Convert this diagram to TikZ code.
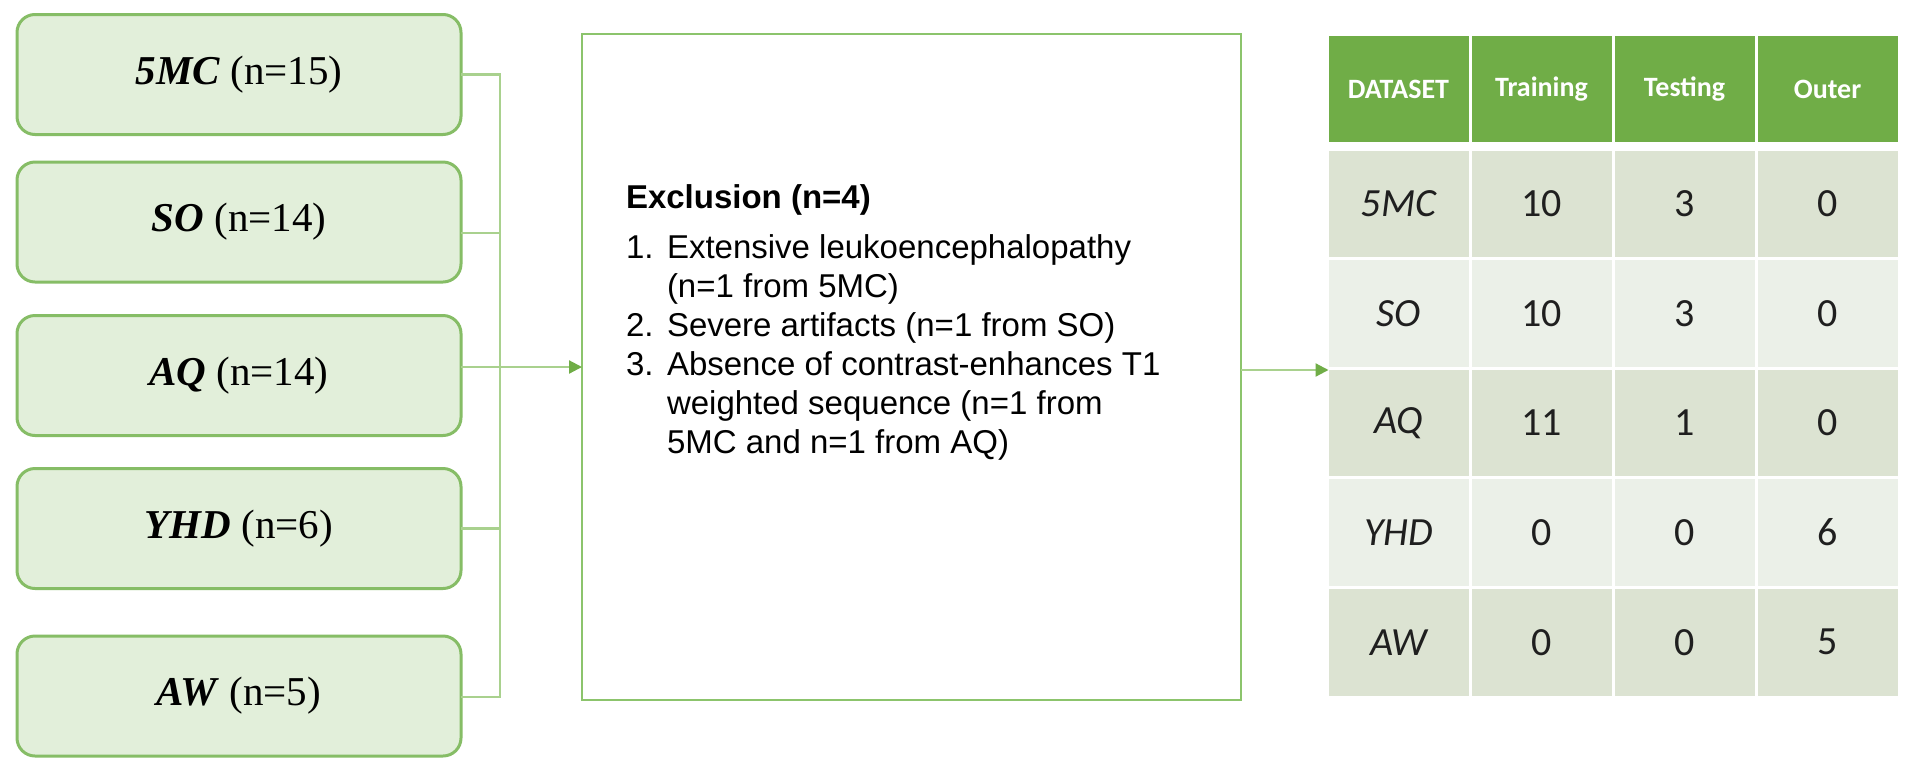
\documentclass[tikz,border=0pt]{standalone}
\usepackage{fontspec}
\setmainfont{Liberation Serif}
\newfontfamily\arialf{Liberation Sans}
\newfontfamily\calf{Carlito}
\usetikzlibrary{arrows.meta}
\definecolor{boxfill}{HTML}{E2EFDA}
\definecolor{boxdraw}{HTML}{86BD66}
\definecolor{busline}{HTML}{A9D18E}
\definecolor{arrgreen}{HTML}{70AD47}
\definecolor{midline}{HTML}{8CC46C}
\definecolor{headfill}{HTML}{70AD47}
\definecolor{rowA}{HTML}{DCE3D2}
\definecolor{rowB}{HTML}{EBF0E8}
\definecolor{tabtext}{HTML}{1F1F1F}
\begin{document}
\begin{tikzpicture}[x=1pt,y=-1pt,
  srcbox/.style={draw=boxdraw, fill=boxfill, line width=3pt, rounded corners=18pt,
    minimum width=444pt, minimum height=120pt, inner sep=0pt, outer sep=0pt,
    font=\fontsize{41}{49}\selectfont},
  bus/.style={draw=busline, line width=2.2pt},
  arr/.style={draw=busline, line width=2.2pt, -{Triangle[length=13pt,width=13pt,color=arrgreen]}},
  midbox/.style={draw=midline, line width=2.5pt, minimum width=659pt, minimum height=666pt,
    inner sep=0pt, outer sep=0pt},
  txt/.style={inner sep=0pt, outer sep=0pt, anchor=base west,
    font=\arialf\fontsize{33}{39}\selectfont},
  cell/.style={minimum width=140pt, minimum height=106.6pt, inner sep=0pt, outer sep=0pt,
    font=\calf\fontsize{40}{48}\selectfont, text=tabtext},
  hcell/.style={cell, fill=headfill, minimum height=106pt, text=white,
    font=\calf\bfseries\fontsize{28}{34}\selectfont},
  ca/.style={cell, fill=rowA},
  cb/.style={cell, fill=rowB}
]
\fill[white] (0,0) rectangle (1913,772);
\useasboundingbox (0,0) rectangle (1913,772);

% source boxes
\node[srcbox] (b1) at (239,74.5)  {\textbf{\textit{5MC}} (n=15)};
\node[srcbox] (b2) at (239,222)   {\textbf{\textit{SO}} (n=14)};
\node[srcbox] (b3) at (239,375.5) {\textbf{\textit{AQ}} (n=14)};
\node[srcbox] (b4) at (239,528.5) {\textbf{\textit{YHD}} (n=6)};
\node[srcbox] (b5) at (239,696)   {\textbf{\textit{AW}} (n=5)};

% middle box
\node[midbox] (mid) at (911.5,367) {};

% bus lines
\coordinate (bt) at (500,74.5);
\coordinate (bb) at (500,697);
\draw[bus] (b1.east) -- (bt) -- (bb) -- (b5.east |- bb);
\draw[bus] ([yshift=-11pt]b2.east) -- ([yshift=-11pt]b2.east -| bt);
\draw[bus] (b4.east) -- (b4.east -| bt);
\draw[arr] (b3.east |- mid.west) -- (mid.west);

% middle text
\node[txt, font=\arialf\bfseries\fontsize{33}{39}\selectfont] (ex) at (626,208) {Exclusion (n=4)};
\node[txt] (n1) at (626,258) {1.};
\node[txt] (l1) at (667,258) {Extensive leukoencephalopathy};
\node[txt] (l2) at (667,297) {(n=1 from 5MC)};
\node[txt] (n2) at (626,336) {2.};
\node[txt] (l3) at (667,336) {Severe artifacts (n=1 from SO)};
\node[txt] (n3) at (626,375) {3.};
\node[txt] (l4) at (667,375) {Absence of contrast-enhances T1};
\node[txt] (l5) at (667,414) {weighted sequence (n=1 from};
\node[txt] (l6) at (667,453) {5MC and n=1 from AQ)};

% table
\node[hcell] (h1) at (1398.5,89) {DATASET};
\node[hcell] (h2) at (1541.5,89) {Training};
\node[hcell] (h3) at (1684.5,89) {Testing};
\node[hcell] (h4) at (1827.5,89) {Outer};

\node[ca] (r11) at (1398.5,203.8) {\itshape 5MC};
\node[ca] (r12) at (1541.5,203.8) {10};
\node[ca] (r13) at (1684.5,203.8) {3};
\node[ca] (r14) at (1827.5,203.8) {0};

\node[cb] (r21) at (1398.5,313.4) {\itshape SO};
\node[cb] (r22) at (1541.5,313.4) {10};
\node[cb] (r23) at (1684.5,313.4) {3};
\node[cb] (r24) at (1827.5,313.4) {0};

\node[ca] (r31) at (1398.5,423) {\itshape AQ};
\node[ca] (r32) at (1541.5,423) {11};
\node[ca] (r33) at (1684.5,423) {1};
\node[ca] (r34) at (1827.5,423) {0};

\node[cb] (r41) at (1398.5,532.6) {\itshape YHD};
\node[cb] (r42) at (1541.5,532.6) {0};
\node[cb] (r43) at (1684.5,532.6) {0};
\node[cb] (r44) at (1827.5,532.6) {6};

\node[ca] (r51) at (1398.5,642.2) {\itshape AW};
\node[ca] (r52) at (1541.5,642.2) {0};
\node[ca] (r53) at (1684.5,642.2) {0};
\node[ca] (r54) at (1827.5,642.2) {5};

\draw[arr] ([yshift=-3pt]mid.east) -- ([yshift=-3pt]mid.east -| r31.west);
\end{tikzpicture}
\end{document}
